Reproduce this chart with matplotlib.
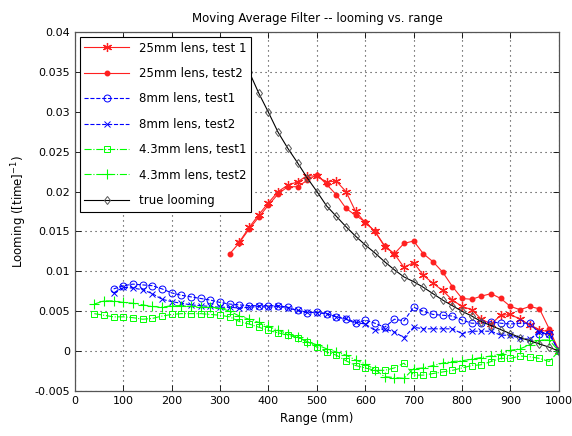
import numpy as np
import matplotlib
matplotlib.use('Agg')
import matplotlib.pyplot as plt

# ranges (mm)
x_25_1 = np.arange(340, 1001, 20)
x_25_2 = np.arange(320, 1001, 20)
x_8 = np.arange(80, 1001, 20)
x_43 = np.arange(40, 1001, 20)
x_true = np.arange(360, 1001, 20)

lens25_test1 = [0.0137, 0.0155, 0.0171, 0.0186, 0.0200, 0.0208, 0.0212, 0.0220,
                0.0219, 0.0212, 0.0213, 0.0200, 0.0175, 0.0161, 0.0150, 0.0131,
                0.0122, 0.0105, 0.0111, 0.0095, 0.0085, 0.0076, 0.0064, 0.0056,
                0.0052, 0.0040, 0.0034, 0.0045, 0.0046, 0.0040, 0.0033, 0.0027,
                0.0024, 0.0000]
lens25_test2 = [0.0122, 0.0136, 0.0153, 0.0168, 0.0183, 0.0197, 0.0206, 0.0206,
                0.0214, 0.0221, 0.0209, 0.0196, 0.0179, 0.0170, 0.0162, 0.0150,
                0.0132, 0.0122, 0.0135, 0.0138, 0.0122, 0.0112, 0.0099, 0.0081,
                0.0066, 0.0065, 0.0069, 0.0072, 0.0066, 0.0056, 0.0052, 0.0056,
                0.0053, 0.0028, 0.0001]
lens8_test1 = [0.0078, 0.0082, 0.0084, 0.0083, 0.0082, 0.0078, 0.0073, 0.0070,
               0.0068, 0.0066, 0.0064, 0.0061, 0.0059, 0.0058, 0.0057, 0.0057,
               0.0057, 0.0057, 0.0055, 0.0051, 0.0048, 0.0049, 0.0047, 0.0043,
               0.0040, 0.0035, 0.0039, 0.0035, 0.0030, 0.0040, 0.0038, 0.0055,
               0.0050, 0.0046, 0.0045, 0.0044, 0.0039, 0.0035, 0.0035, 0.0037,
               0.0035, 0.0034, 0.0035, 0.0035, 0.0022, 0.0022, 0.0000]
lens8_test2 = [0.0073, 0.0080, 0.0079, 0.0077, 0.0072, 0.0065, 0.0062, 0.0060,
               0.0058, 0.0057, 0.0056, 0.0055, 0.0055, 0.0054, 0.0055, 0.0056,
               0.0055, 0.0056, 0.0054, 0.0051, 0.0049, 0.0048, 0.0047, 0.0043,
               0.0041, 0.0036, 0.0034, 0.0026, 0.0028, 0.0024, 0.0017, 0.0030,
               0.0028, 0.0028, 0.0028, 0.0028, 0.0022, 0.0025, 0.0025, 0.0025,
               0.0020, 0.0020, 0.0016, 0.0015, 0.0024, 0.0022, 0.0000]
lens43_test1 = [0.0047, 0.0045, 0.0043, 0.0043, 0.0042, 0.0040, 0.0041, 0.0044,
                0.0046, 0.0047, 0.0047, 0.0047, 0.0046, 0.0045, 0.0043, 0.0037,
                0.0034, 0.0030, 0.0026, 0.0023, 0.0020, 0.0017, 0.0012, 0.0005,
                -0.0001, -0.0005, -0.0012, -0.0018, -0.0021, -0.0024, -0.0024,
                -0.0021, -0.0015, -0.0030, -0.0030, -0.0028, -0.0026, -0.0024,
                -0.0021, -0.0018, -0.0017, -0.0013, -0.0009, -0.0009, -0.0006,
                -0.0007, -0.0009, -0.0013, 0.0000]
lens43_test2 = [0.0059, 0.0063, 0.0063, 0.0061, 0.0060, 0.0058, 0.0056, 0.0055,
                0.0057, 0.0057, 0.0056, 0.0055, 0.0055, 0.0054, 0.0050, 0.0044,
                0.0040, 0.0036, 0.0031, 0.0026, 0.0022, 0.0018, 0.0012, 0.0008,
                0.0003, -0.0001, -0.0005, -0.0011, -0.0016, -0.0023, -0.0032,
                -0.0033, -0.0034, -0.0022, -0.0021, -0.0018, -0.0015, -0.0013,
                -0.0012, -0.0010, -0.0008, -0.0006, -0.0004, 0.0001, 0.0003,
                0.0008, 0.0014, 0.0014, 0.0000]
true_looming = [0.0350, 0.0323, 0.0299, 0.0274, 0.0254, 0.0236, 0.0217, 0.0200,
                0.0182, 0.0169, 0.0156, 0.0144, 0.0133, 0.0123, 0.0112, 0.0102,
                0.0093, 0.0087, 0.0080, 0.0072, 0.0064, 0.0057, 0.0050, 0.0044,
                0.0037, 0.0032, 0.0027, 0.0022, 0.0017, 0.0013, 0.0009, 0.0005,
                0.0000]

labels = ['25mm lens, test 1', '25mm lens, test2', '8mm lens, test1',
          '8mm lens, test2', '4.3mm lens, test1', '4.3mm lens, test2',
          'true looming']

plt.rcParams['font.family'] = ['DejaVu Sans']
plt.rcParams['font.size'] = 8

fig = plt.figure(figsize=(5.72, 4.36), dpi=100)
ax = fig.add_axes([0.131, 0.103, 0.846, 0.824])

lw = 0.8
asterisk = (6, 2, 0)
ax.plot(x_25_1, lens25_test1, color='#ff2020', ls='-', lw=lw, marker=asterisk,
        ms=6.5, mew=0.9, label=labels[0])
ax.plot(x_25_2, lens25_test2, color='#ff2020', ls='-', lw=lw, marker='.',
        ms=6.5, label=labels[1])
ax.plot(x_8, lens8_test1, color='#0000ff', ls='--', lw=lw, marker='o',
        ms=5, mfc='none', mew=0.7, label=labels[2])
ax.plot(x_8, lens8_test2, color='#0000ff', ls='--', lw=lw, marker='x',
        ms=4.5, mew=0.7, label=labels[3])
ax.plot(x_43, lens43_test1, color='#00ff00', ls='-.', lw=lw, marker='s',
        ms=5, mfc='none', mew=0.7, label=labels[4])
ax.plot(x_43, lens43_test2, color='#00ff00', ls='-.', lw=lw, marker='+',
        ms=6.5, mew=0.8, label=labels[5])
ax.plot(x_true, true_looming, color='black', ls='-', lw=lw, marker='d',
        ms=4.5, mfc='none', mec='#555555', mew=0.7, label=labels[6])

ax.set_xlim(0, 1000)
ax.set_ylim(-0.005, 0.04)
ax.set_xticks(np.arange(0, 1001, 100))
yt = np.arange(-0.005, 0.0401, 0.005)
ax.set_yticks(yt)
ax.set_yticklabels(['%g' % round(v, 3) for v in yt])

ax.grid(True, color='#333333', ls=(0, (1, 3.5)), lw=0.8)
ax.tick_params(direction='in', top=True, right=True, length=4, width=0.6)
for s in ax.spines.values():
    s.set_color('#555555')
    s.set_linewidth(0.9)

ax.set_title('Moving Average Filter -- looming vs. range', fontsize=8.5, pad=7)
ax.set_xlabel('Range (mm)', fontsize=8.5)
ax.set_ylabel('Looming ([time]$^{-1}$)', fontsize=8.5)

leg = ax.legend(loc='upper left', bbox_to_anchor=(0.01, 0.986), borderaxespad=0,
                fontsize=8.5, labelspacing=1.05, handlelength=3.8,
                fancybox=False, framealpha=1, edgecolor='black')
leg.get_frame().set_linewidth(0.8)

fig.savefig('out.png', dpi=100)
